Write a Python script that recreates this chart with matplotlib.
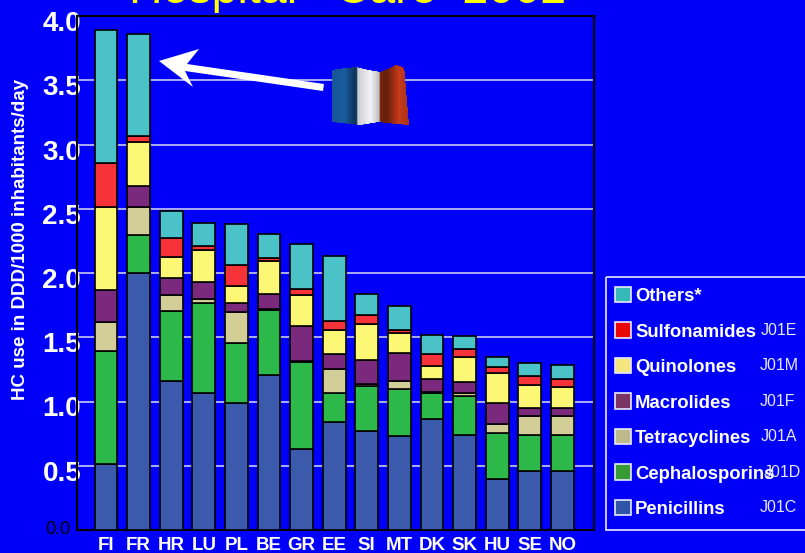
import numpy as np
import matplotlib
matplotlib.use("Agg")
import matplotlib.pyplot as plt
from matplotlib.patches import Rectangle, Polygon
from matplotlib.transforms import ScaledTranslation

W, H = 805, 553

countries = ["FI", "FR", "HR", "LU", "PL", "BE", "GR", "EE", "SI", "MT", "DK", "SK", "HU", "SE", "NO"]
penicillins = [.513, 2.0, 1.161, 1.065, .985, 1.205, .63, .837, .772, .728, .866, .736, .394, .459, .459]
cephalosporins = [.877, .294, .547, .705, .469, .508, .676, .228, .345, .372, .199, .304, .363, .277, .277]
tetracyclines = [.225, .216, .117, .024, .241, .007, .010, .185, .023, .059, .011, .023, .067, .153, .153]
macrolides = [.249, .165, .135, .136, .068, .115, .270, .119, .182, .220, .098, .088, .164, .059, .059]
quinolones = [.646, .345, .165, .25, .137, .259, .241, .184, .285, .151, .106, .197, .236, .182, .162]
sulfonamides = [.346, .044, .145, .034, .166, .026, .050, .075, .065, .025, .089, .062, .043, .065, .062]
others = [1.032, .793, .21, .176, .314, .18, .347, .502, .165, .192, .15, .101, .078, .101, .109]

series = [penicillins, cephalosporins, tetracyclines, macrolides, quinolones, sulfonamides, others]
bar_colors = ["#3c5aab", "#2db84a", "#d3cd97", "#7a297c", "#fcf875", "#f53339", "#4ac2c8"]

legend_names = ["Others*", "Sulfonamides", "Quinolones", "Macrolides", "Tetracyclines", "Cephalosporins", "Penicillins"]
legend_codes = ["", "J01E", "J01M", "J01F", "J01A", "J01D", "J01C"]
legend_colors = ["#35b9b9", "#e80808", "#f5e680", "#7a3565", "#bcb98a", "#379a35", "#2f55a8"]

yticks = [0.5, 1.0, 1.5, 2.0, 2.5, 3.0, 3.5, 4.0]

BLUE = "#0000fa"
plt.rcParams["font.family"] = ["Liberation Sans", "DejaVu Sans"]

fig = plt.figure(figsize=(W / 100, H / 100), dpi=100, facecolor=BLUE)

def px_axes(x0, y0, x1, y1):
    return fig.add_axes([x0 / W, 1 - y1 / H, (x1 - x0) / W, (y1 - y0) / H])

ax = px_axes(77, 16, 594, 530)
ax.set_facecolor(BLUE)
ax.set_xlim(-0.89, 14.97)
ax.set_ylim(0, 4.0)
ax.set_axisbelow(True)
ax.yaxis.grid(True, color="#c8c8f0", lw=1.2)
ax.set_yticks(yticks)
ax.set_yticklabels(["%.1f" % v for v in yticks], color="white", fontsize=20, fontweight="bold")
ax.tick_params(axis="y", length=0, pad=-3)
# labels sit a bit under their gridlines in the original
shift = ScaledTranslation(0, -5 / 100, fig.dpi_scale_trans)
for lab in ax.get_yticklabels():
    lab.set_transform(lab.get_transform() + shift)
ax.set_xticks(range(len(countries)))
ax.set_xticklabels(countries, color="white", fontsize=13.5, fontweight="bold")
ax.tick_params(axis="x", length=0, pad=5)
for s in ax.spines.values():
    s.set_color("black")
    s.set_linewidth(1.5)

bottom = np.zeros(len(countries))
for vals, c in zip(series, bar_colors):
    ax.bar(range(len(countries)), vals, 0.7, bottom=bottom, color=c, edgecolor="black", linewidth=1.2, zorder=3)
    bottom += np.array(vals)

fig.text(45 / W, 1 - 530 / H, "0.0", color="black", fontsize=13, ha="left", va="center")
fig.text(21 / W, 1 - 240 / H, "HC use in DDD/1000 inhabitants/day", color="white", fontsize=13.5,
         fontweight="bold", rotation=90, ha="center", va="center")
fig.text(348 / W, 1 - 3 / H, "Hospital   Care  2002", color="#ffff00", fontsize=33.5, ha="center", va="baseline")

# everything else is placed in pixel coords on a full figure overlay
ov = fig.add_axes([0, 0, 1, 1], facecolor="none")
ov.set_xlim(0, W)
ov.set_ylim(H, 0)
ov.axis("off")

ov.add_patch(Rectangle((605.5, 276.5), 205, 253, fc="none", ec="#d8d8ff", lw=1.3))
code_x = [760, 761, 760, 760, 761, 764, 760]
for i, (name, code, c) in enumerate(zip(legend_names, legend_codes, legend_colors)):
    y = 296.5 + i * 35.55
    ov.add_patch(Rectangle((614.5, y - 10), 16, 15.5, fc=c, ec="#e8e8ff", lw=1.2))
    ov.text(635, y, name, color="white", fontsize=13.3, fontweight="bold", va="center", ha="left")
    ov.text(code_x[i], y - 2, code, color="#e8e8ff", fontsize=11.5, va="center", ha="left")

# arrow
ov.add_patch(Polygon([(159, 61), (199, 49), (187, 64), (324, 84), (323, 91), (185, 71), (193, 87)],
                     fc="white", ec="none"))

# flag
x0, x1, y0, y1 = 332, 408, 65, 126
h, w = y1 - y0, x1 - x0
px, py = np.meshgrid(np.arange(x0, x1) + .5, np.arange(y0, y1) + .5)
top_edge = np.interp(px, [332, 345, 356, 368, 380, 395, 402, 408], [70, 68, 67, 70, 72, 65, 67, 80])
bot_edge = np.interp(px, [332, 360, 378, 395, 408], [122, 125, 122, 124, 125])
left_ok = px >= 332.5
right_ok = px <= np.interp(py, [65, 125], [403, 408])
stripe = np.where(px < 357, 0, np.where(px < 379, 1, 2))
cols = np.array([[0.10, 0.36, 0.62], [0.95, 0.95, 0.97], [0.74, 0.22, 0.10]])
shade = np.interp(px, [332, 345, 355, 358, 370, 378, 381, 386, 398, 408],
                  [0.95, 1.0, 0.55, 0.85, 1.0, 0.8, 0.6, 0.55, 1.05, 0.9])
img = np.zeros((h, w, 4))
img[..., :3] = np.clip(cols[stripe] * shade[..., None], 0, 1)
img[..., 3] = ((py > top_edge) & (py < bot_edge) & left_ok & right_ok).astype(float)
ov.imshow(img, extent=(x0, x1, y1, y0), aspect="auto", zorder=5)
ov.set_xlim(0, W)
ov.set_ylim(H, 0)

fig.savefig("out.png", dpi=100, facecolor=BLUE)
